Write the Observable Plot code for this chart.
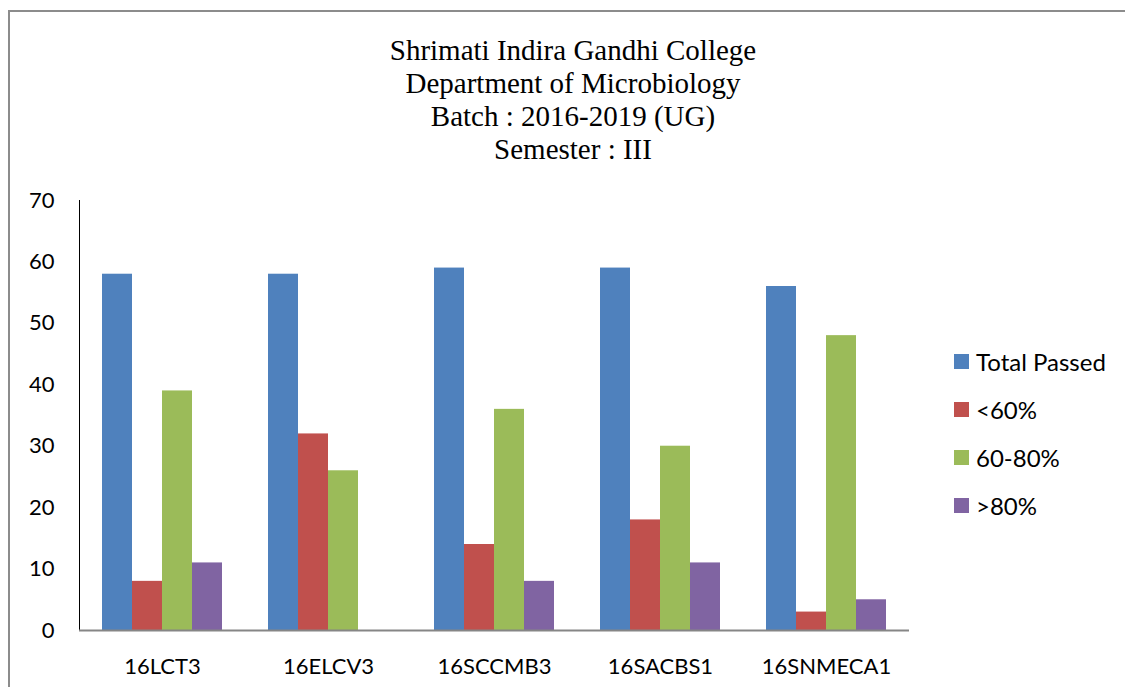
<!DOCTYPE html>
<html><head><meta charset="utf-8">
<script src="https://cdn.jsdelivr.net/npm/d3@7"></script>
<script src="https://cdn.jsdelivr.net/npm/@observablehq/plot@0.6"></script>
<style>
html,body{margin:0;padding:0;background:#fff;width:1125px;height:687px;overflow:hidden;}
#frame{position:absolute;left:8px;top:10px;width:1200px;height:800px;border-left:2px solid #8c8c8c;border-top:2px solid #8c8c8c;}
#title{position:absolute;left:273px;width:600px;top:34px;text-align:center;font-family:"Liberation Serif",serif;font-size:29px;line-height:33px;color:#000;}
#chart{position:absolute;left:0;top:180px;}
#legend{position:absolute;left:954px;top:337px;font-family:Lato,sans-serif;font-size:24px;color:#000;}
.item{display:flex;align-items:center;height:48px;}
.sw{width:15px;height:15px;margin-right:7px;}
</style></head>
<body>
<div id="frame"></div>
<div id="title"></div>
<div id="chart"></div>
<div id="legend"></div>
<script>
const titleLines = ["Shrimati Indira Gandhi College", "Department of Microbiology", "Batch : 2016-2019 (UG)", "Semester : III"];
const categories = ["16LCT3", "16ELCV3", "16SCCMB3", "16SACBS1", "16SNMECA1"];
const series = ["Total Passed", "<60%", "60-80%", ">80%"];
const colors = ["#4F81BD", "#C0504D", "#9BBB59", "#8064A2"];
const totalPassed = [58, 58, 59, 59, 56];
const below60 = [8, 32, 14, 18, 3];
const from60to80 = [39, 26, 36, 30, 48];
const above80 = [11, 0, 8, 11, 5];
const yTicks = [0, 10, 20, 30, 40, 50, 60, 70];

const seriesValues = [totalPassed, below60, from60to80, above80];
const data = categories.flatMap((c, i) => series.map((s, j) => ({category: c, series: s, value: seriesValues[j][i]})));

document.getElementById("title").innerHTML = titleLines.map(t => `<div>${t.replace(/</g,"&lt;")}</div>`).join("");

const chart = Plot.plot({
  width: 920,
  height: 507,
  marginTop: 20,
  marginBottom: 57,
  marginLeft: 78,
  marginRight: 10,
  style: {fontFamily: "Lato, sans-serif", fontSize: "22px", color: "#000", background: "transparent"},
  fx: {domain: categories, padding: 0, axis: "bottom", label: null, tickSize: 0, tickPadding: 28},
  x: {domain: series, axis: null, paddingInner: 0, paddingOuter: 0.72},
  y: {domain: [0, 70], ticks: yTicks, tickSize: 0, tickPadding: 25, label: null, line: true},
  color: {domain: series, range: colors},
  marks: [
    Plot.barY(data, {fx: "category", x: "series", y: "value", fill: "series"}),
    Plot.ruleY([0], {stroke: "#868686", strokeWidth: 2})
  ]
});
document.getElementById("chart").appendChild(chart);

const legend = document.getElementById("legend");
series.forEach((s, j) => {
  const item = document.createElement("div");
  item.className = "item";
  const sw = document.createElement("div");
  sw.className = "sw";
  sw.style.background = colors[j];
  const label = document.createElement("span");
  label.textContent = s;
  item.appendChild(sw);
  item.appendChild(label);
  legend.appendChild(item);
});
</script>
</body></html>
